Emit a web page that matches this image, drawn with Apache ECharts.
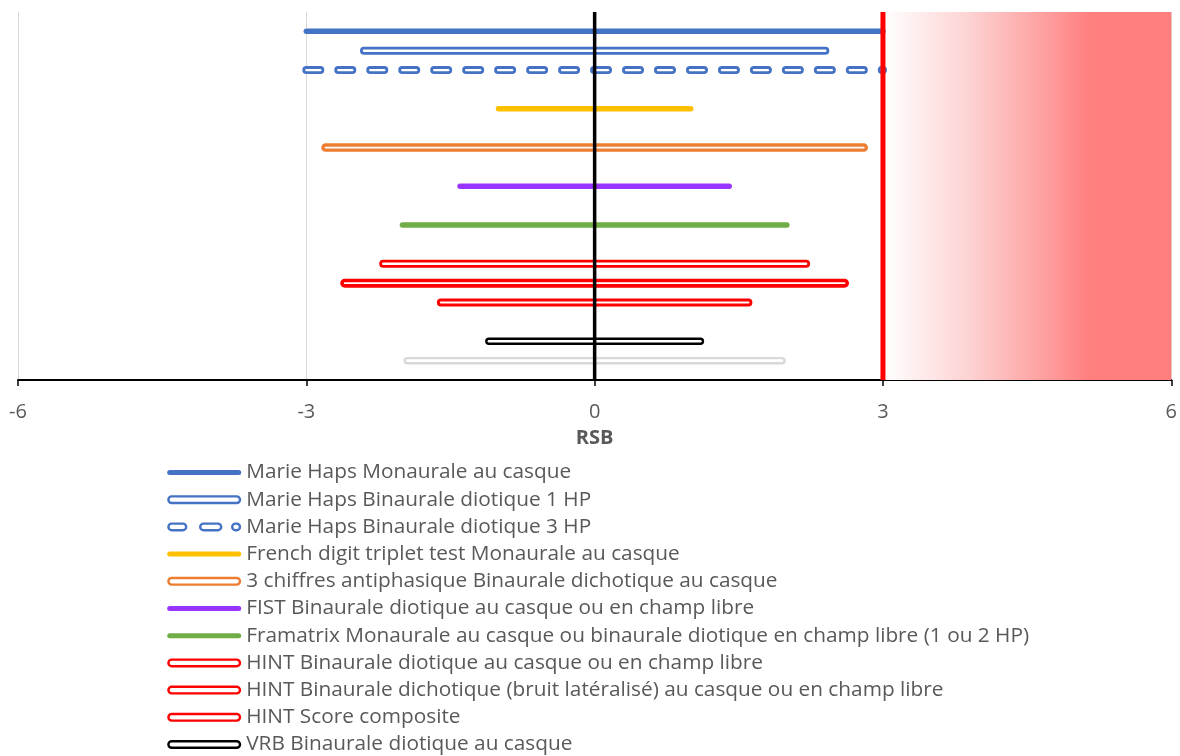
<!DOCTYPE html>
<html>
<head>
<meta charset="utf-8">
<script src="https://cdn.jsdelivr.net/npm/echarts@6/dist/echarts.min.js"></script>
<style>
html,body{margin:0;padding:0;background:#fff;}
#chart{width:1180px;height:756px;}
</style>
</head>
<body>
<div id="chart"></div>
<script>
// ---- data ----
const categories = [
  "Marie Haps Monaurale au casque",
  "Marie Haps Binaurale diotique 1 HP",
  "Marie Haps Binaurale diotique 3 HP",
  "French digit triplet test Monaurale au casque",
  "3 chiffres antiphasique Binaurale dichotique au casque",
  "FIST Binaurale diotique au casque ou en champ libre",
  "Framatrix Monaurale au casque ou binaurale diotique en champ libre (1 ou 2 HP)",
  "HINT Binaurale diotique au casque ou en champ libre",
  "HINT Binaurale dichotique (bruit latéralisé) au casque ou en champ libre",
  "HINT Score composite",
  "VRB Binaurale diotique au casque",
  "Autre test"
];
const rowPosition = [18, 17, 16, 14, 12, 10, 8, 6, 5, 4, 2, 1];
const lowerRSB = [-3, -2.4, -3, -1, -2.8, -1.4, -2, -2.2, -2.6, -1.6, -1.1, -1.95];
const upperRSB = [3, 2.4, 3, 1, 2.8, 1.4, 2, 2.2, 2.6, 1.6, 1.1, 1.95];
const xTicks = [-6, -3, 0, 3, 6];
const zeroLineX = 0;
const thresholdX = 3;
const zoneRange = [3, 6];
const rowMax = 19;

// ---- styles ----
const BLUE = '#4472C4', YEL = '#FFC000', ORA = '#ED7D31', PUR = '#9933FF',
      GRN = '#70AD47', RED = '#FF0000', BLK = '#000000', GRY = '#D9D9D9';
const FONT = '"Open Sans", sans-serif';
// kind: 's' solid, 'd' double, 'dd' double dashed
const styles = [
  {c: BLUE, k: 's', w: 5.5},
  {c: BLUE, k: 'd', w: 8, iw: 2.4},
  {c: BLUE, k: 'dd', w: 8, iw: 2.4},
  {c: YEL, k: 's', w: 5.5},
  {c: ORA, k: 'd', w: 8.5, iw: 1.8},
  {c: PUR, k: 's', w: 5.5},
  {c: GRN, k: 's', w: 5.5},
  {c: RED, k: 'd', w: 8, iw: 2.4},
  {c: RED, k: 'd', w: 9, iw: 1.8},
  {c: RED, k: 'd', w: 8, iw: 2},
  {c: BLK, k: 'd', w: 7.5, iw: 2.6},
  {c: GRY, k: 'd', w: 7.5, iw: 2.6}
];

function capsule(x0, x1, y0, y1) {
  const r = (y1 - y0) / 2;
  return `M${x0 + r},${y0} L${x1 - r},${y0} A${r},${r} 0 0 1 ${x1 - r},${y1} L${x0 + r},${y1} A${r},${r} 0 0 1 ${x0 + r},${y0} Z`;
}
const frame = 'M0,0 M74,9 ';

const series = [];
// gradient zone
series.push({
  type: 'line', name: '_zone', data: [], z: 0, silent: true,
  markArea: {
    silent: true,
    itemStyle: {
      color: {type: 'linear', x: 0, y: 0, x2: 1, y2: 0, colorStops: [
        {offset: 0, color: '#ffffff'},
        {offset: 0.3, color: '#fdd2d2'},
        {offset: 0.72, color: '#ff7f7f'},
        {offset: 1, color: '#ff7f7f'}
      ]}
    },
    data: [[{xAxis: zoneRange[0]}, {xAxis: zoneRange[1]}]]
  }
});

categories.forEach((name, i) => {
  const st = styles[i];
  const pts = [[lowerRSB[i], rowPosition[i]], [upperRSB[i], rowPosition[i]]];
  const dash = st.k === 'dd' ? [14, 17.97] : 'solid';
  series.push({
    type: 'line', name: name, data: pts, symbol: 'none', z: 2,
    lineStyle: {color: st.c, width: st.w, cap: 'round', type: dash},
    silent: true
  });
  if (st.k !== 's') {
    series.push({
      type: 'line', name: name, data: pts, symbol: 'none', z: 3,
      lineStyle: {color: '#ffffff', width: st.iw, cap: 'round', type: dash},
      silent: true
    });
  }
});

// reference vertical lines
series.push({
  type: 'line', name: '_zero', data: [[zeroLineX, 0], [zeroLineX, rowMax]], symbol: 'none', z: 5,
  lineStyle: {color: '#000000', width: 3.5}, silent: true
});
series.push({
  type: 'line', name: '_threshold', data: [[thresholdX, 0], [thresholdX, rowMax]], symbol: 'none', z: 5,
  lineStyle: {color: '#FF0000', width: 5}, silent: true
});

const legendData = categories.slice(0, 11).map((name, i) => {
  const st = styles[i];
  if (st.k === 's') {
    return {name, icon: 'path://' + frame + capsule(0, 74, 2, 7),
      itemStyle: {color: st.c, borderWidth: 0}};
  }
  if (st.k === 'dd') {
    return {name, icon: 'path://' + frame + capsule(1.2, 19, 1.2, 7.8) + ' ' + capsule(33, 54, 1.2, 7.8) + ' ' + capsule(65, 72.8, 1.2, 7.8),
      itemStyle: {color: '#ffffff', borderColor: st.c, borderWidth: 2.4}};
  }
  return {name, icon: 'path://' + frame + capsule(1.2, 72.8, 1.2, 7.8),
    itemStyle: {color: '#ffffff', borderColor: st.c, borderWidth: 2.4}};
});

const chart = echarts.init(document.getElementById('chart'), null, {renderer: 'canvas'});
chart.setOption({
  animation: false,
  backgroundColor: '#ffffff',
  grid: {left: 18, right: 8, top: 12, bottom: 376, containLabel: false},
  xAxis: {
    type: 'value', min: xTicks[0], max: xTicks[xTicks.length - 1], interval: 3,
    axisLine: {show: true, onZero: false, lineStyle: {color: '#000000', width: 2}},
    axisTick: {show: true, length: 6, lineStyle: {color: '#000000', width: 1.5}},
    axisLabel: {color: '#595959', fontSize: 20, fontFamily: FONT, margin: 22},
    splitLine: {show: true, lineStyle: {color: '#D9D9D9', width: 1}},
    name: 'RSB', nameLocation: 'middle', nameGap: 48,
    nameTextStyle: {color: '#595959', fontSize: 20, fontWeight: 'bold', fontFamily: FONT}
  },
  yAxis: {
    type: 'value', min: 0, max: rowMax, show: false,
    splitLine: {show: false}
  },
  legend: {
    orient: 'vertical', left: 166, top: 462, padding: 0,
    itemWidth: 74, itemHeight: 9, itemGap: 6.2,
    selectedMode: false,
    textStyle: {color: '#595959', fontSize: 20.8, fontFamily: FONT, lineHeight: 21},
    data: legendData
  },
  series: series
});
</script>
</body>
</html>
